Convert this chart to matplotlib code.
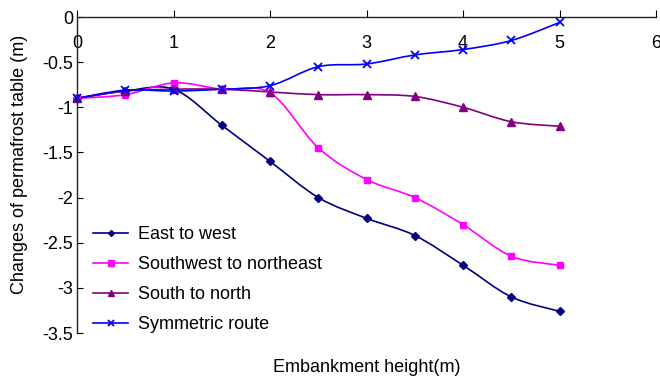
import numpy as np
import matplotlib.pyplot as plt
from matplotlib.path import Path
from matplotlib.patches import PathPatch
from matplotlib.lines import Line2D

plt.rcParams['font.family'] = ['Liberation Sans', 'DejaVu Sans']

heights = [0, 0.5, 1, 1.5, 2, 2.5, 3, 3.5, 4, 4.5, 5]
east_west = [-0.9, -0.82, -0.8, -1.2, -1.6, -2.0, -2.23, -2.42, -2.75, -3.1, -3.26]
southwest_northeast = [-0.9, -0.86, -0.73, -0.8, -0.84, -1.45, -1.8, -2.0, -2.3, -2.65, -2.75]
south_north = [-0.9, -0.82, -0.8, -0.8, -0.83, -0.86, -0.86, -0.88, -1.0, -1.16, -1.21]
symmetric = [-0.9, -0.81, -0.82, -0.8, -0.76, -0.55, -0.52, -0.42, -0.36, -0.26, -0.06]

series = [
    ("East to west", east_west, "#000080", "D", 4),
    ("Southwest to northeast", southwest_northeast, "#FF00FF", "s", 5),
    ("South to north", south_north, "#800080", "^", 6),
    ("Symmetric route", symmetric, "#0000FF", "x", 6),
]


def smooth_path(xs, ys):
    # cubic bezier through every point, catmull-rom style tangents
    pts = np.column_stack([xs, ys]).astype(float)
    verts = [pts[0]]
    codes = [Path.MOVETO]
    n = len(pts)
    for i in range(n - 1):
        p0 = pts[i - 1] if i > 0 else pts[i]
        p1 = pts[i]
        p2 = pts[i + 1]
        p3 = pts[i + 2] if i + 2 < n else pts[i + 1]
        c1 = p1 + (p2 - p0) / 6.0
        c2 = p2 - (p3 - p1) / 6.0
        verts += [c1, c2, p2]
        codes += [Path.CURVE4] * 3
    return Path(verts, codes)


fig = plt.figure(figsize=(6.6, 3.78), dpi=100)
ax = fig.add_axes([0.117, 0.119, 0.877, 0.836])

handles = []
for label, vals, color, marker, ms in series:
    patch = PathPatch(smooth_path(heights, vals), facecolor="none",
                      edgecolor=color, lw=1.2, clip_on=False)
    ax.add_patch(patch)
    mew = 1.3 if marker == "x" else 1.0
    ax.plot(heights, vals, linestyle="none", marker=marker, color=color,
            markersize=ms, markeredgewidth=mew, clip_on=False)
    handles.append(Line2D([0], [0], color=color, lw=1.2, marker=marker,
                          markersize=ms - 1, markeredgewidth=mew))

ax.set_xlim(0, 6)
ax.set_ylim(-3.5, 0)
ax.set_xticks(range(0, 7))
ax.set_yticks(np.arange(-3.5, 0.01, 0.5))
ax.set_yticklabels(["-3.5", "-3", "-2.5", "-2", "-1.5", "-1", "-0.5", "0"])

ax.spines["bottom"].set_position(("data", 0))
ax.spines["top"].set_visible(False)
ax.spines["right"].set_visible(False)
for sp in ("bottom", "left"):
    ax.spines[sp].set_linewidth(1.0)
    ax.spines[sp].set_color("#222222")

ax.tick_params(axis="x", direction="in", length=5, pad=13, labelsize=13)
ax.tick_params(axis="y", direction="in", length=4, pad=3, labelsize=13)

ax.set_ylabel("Changes of permafrost table (m)", fontsize=13)
ax.yaxis.set_label_coords(-0.085, 0.535)
fig.text(0.556, 0.029, "Embankment height(m)", ha="center", va="center", fontsize=13)

ax.legend(handles, [s[0] for s in series], loc="lower left",
          bbox_to_anchor=(0.028, 0.0), frameon=False, fontsize=13,
          handlelength=1.9, handletextpad=0.55, labelspacing=0.72,
          borderaxespad=0.0, borderpad=0.0)

fig.savefig("out.png", dpi=100)
